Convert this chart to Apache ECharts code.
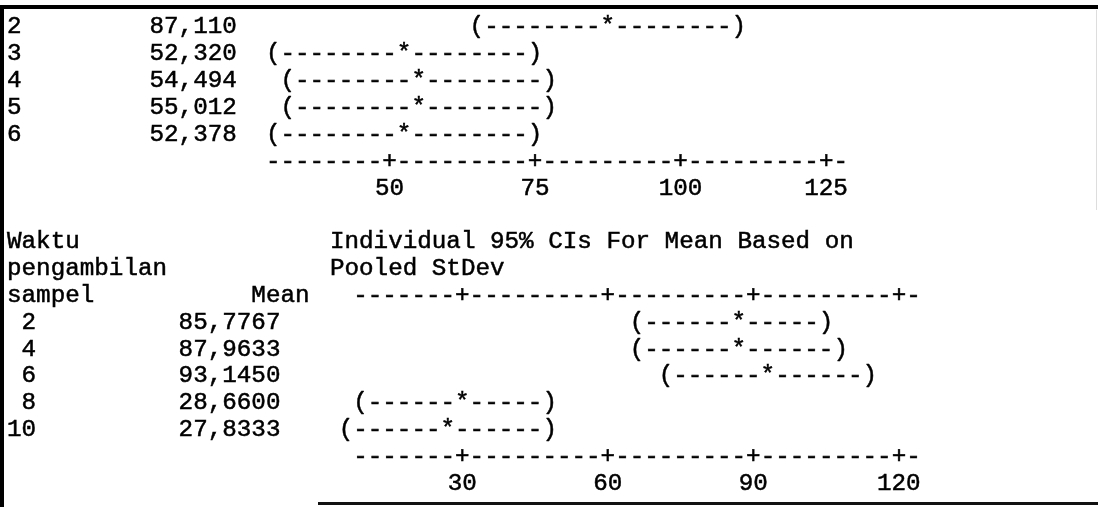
<!DOCTYPE html>
<html><head><meta charset="utf-8">
<script src="https://cdn.jsdelivr.net/npm/echarts@6/dist/echarts.min.js"></script>
<style>html,body{margin:0;padding:0;background:#fff}#c{width:1098px;height:507px}</style>
</head><body><div id="c"></div>
<script>
// ---------------- data ----------------
const topLevels = ['2', '3', '4', '5', '6'];
const topMeans  = [87.110, 52.320, 54.494, 55.012, 52.378];
const topLower  = [64.71, 29.92, 32.09, 32.61, 29.98];
const topUpper  = [109.51, 74.72, 76.89, 77.41, 74.78];
const topTicks  = [50, 75, 100, 125];

const botLevels = ['2', '4', '6', '8', '10'];
const botMeans  = [85.7767, 87.9633, 93.1450, 28.6600, 27.8333];
const botLower  = [65.28, 67.46, 72.65, 8.16, 7.33];
const botUpper  = [106.28, 108.46, 113.65, 49.16, 48.33];
const botTicks  = [30, 60, 90, 120];

const headerLeft  = ['Waktu', 'pengambilan', 'sampel'];
const headerRight = ['Individual 95% CIs For Mean Based on', 'Pooled StDev'];
const meanTitle   = 'Mean';

// ---------------- layout (character grid) ----------------
const CW = 14.55, FS = CW / 0.6, X0 = 4, Y0 = 27, RH = 26.85, LPAD = 3;
const FAMILY = '"Liberation Mono", "DejaVu Sans Mono", monospace';
const FONT = FS + 'px ' + FAMILY;
const INK = '#000';
const colX = c => X0 + c * CW;
const colC = c => X0 + (c + 0.5) * CW;
const rowY = r => Y0 + r * RH;
const snap = px => Math.round((px - X0) / CW - 0.5);
const fmt = (v, d) => v.toFixed(d).replace('.', ',');

function tstyle(x, y, s, align) {
  return { x: x, y: y, text: s, font: FONT, fill: INK, stroke: INK, lineWidth: 0.5,
           align: align || 'left', verticalAlign: 'middle' };
}
function txt(x, y, s, align) {
  return { type: 'text', silent: true, style: tstyle(x, y, s, align) };
}

// CI rows drawn through the axes (quantised to character cells like the printout)
function ciSeries(idx, levels, lower, means, upper, digits, levelEndCol, meanEndCol, levelAlign) {
  return {
    type: 'custom', xAxisIndex: idx, yAxisIndex: idx, silent: true,
    data: means.map((m, i) => [lower[i], m, upper[i], i]),
    encode: { x: [0, 1, 2], y: 3 },
    renderItem(params, api) {
      const i = api.value(3);
      const y = api.coord([api.value(1), i])[1];
      const cL = snap(api.coord([api.value(0), i])[0]);
      const cM = snap(api.coord([api.value(1), i])[0]);
      const cU = snap(api.coord([api.value(2), i])[0]);
      const s = '(' + '-'.repeat(Math.max(0, cM - cL - 1)) + '*' + '-'.repeat(Math.max(0, cU - cM - 1)) + ')';
      const k = params.dataIndex;
      const lx = levelAlign === 'right' ? colX(levelEndCol + 1) + LPAD : colX(0) + LPAD;
      return { type: 'group', children: [
        { type: 'text', style: tstyle(colX(cL), y, s) },
        { type: 'text', style: tstyle(lx, y, levels[k], levelAlign) },
        { type: 'text', style: tstyle(colX(meanEndCol + 1), y, fmt(means[k], digits), 'right') }
      ]};
    }
  };
}

// "--------+---------+..." scale lines
function axisSeries(idx, rows, ticks, lead) {
  return {
    type: 'custom', xAxisIndex: idx, yAxisIndex: idx, silent: true,
    data: rows.map(r => [ticks[0], r]),
    encode: { x: 0, y: 1 },
    renderItem(params, api) {
      const r = api.value(1);
      const y = api.coord([ticks[0], r])[1];
      const cols = ticks.map(t => snap(api.coord([t, r])[0]));
      const start = cols[0] - lead, end = cols[cols.length - 1] + 1;
      let s = '';
      for (let c = start; c <= end; c++) s += cols.indexOf(c) >= 0 ? '+' : '-';
      return { type: 'text', style: tstyle(colX(start), y, s) };
    }
  };
}

function xAx(idx, min, max, interval, ticks) {
  return {
    type: 'value', gridIndex: idx, min: min, max: max, interval: interval,
    axisLine: { show: false }, axisTick: { show: false }, splitLine: { show: false },
    axisLabel: { margin: RH / 2, verticalAlign: 'middle', fontFamily: FAMILY, fontSize: FS, color: INK,
      textBorderColor: INK, textBorderWidth: 0.5,
      formatter: v => ticks.indexOf(v) >= 0 ? String(v) : '' }
  };
}
function yAx(idx, min, max) {
  return { type: 'value', gridIndex: idx, min: min, max: max, inverse: true, show: false };
}

// top scale: column 26 centre = 50, 2.5 units per character
const tUnit = CW / 2.5, tMin = 25, tMax = 150;
// bottom scale: column 31 centre = 30, 3 units per character
const bUnit = CW / 3, bMin = 0, bMax = 150;

const option = {
  animation: false,
  backgroundColor: '#fff',
  grid: [
    { left: colC(26) - (topTicks[0] - tMin) * tUnit, width: (tMax - tMin) * tUnit,
      top: rowY(0) - RH / 2, height: 6 * RH, outerBoundsMode: 'none' },
    { left: colC(31) - (botTicks[0] - bMin) * bUnit, width: (bMax - bMin) * bUnit,
      top: rowY(10) - RH / 2, height: 7 * RH, outerBoundsMode: 'none' }
  ],
  xAxis: [ xAx(0, tMin, tMax, 25, topTicks), xAx(1, bMin, bMax, 30, botTicks) ],
  yAxis: [ yAx(0, -0.5, 5.5), yAx(1, -1.5, 5.5) ],
  series: [
    ciSeries(0, topLevels, topLower, topMeans, topUpper, 3, 0, 15, 'left'),
    axisSeries(0, [5], topTicks, 8),
    ciSeries(1, botLevels, botLower, botMeans, botUpper, 4, 1, 18, 'right'),
    axisSeries(1, [-1, 5], botTicks, 7)
  ],
  graphic: [
    txt(colX(0) + LPAD, rowY(8), headerLeft[0]),
    txt(colX(0) + LPAD, rowY(9), headerLeft[1]),
    txt(colX(0) + LPAD, rowY(10), headerLeft[2]),
    txt(colX(21), rowY(10), meanTitle, 'right'),
    txt(colX(22.4), rowY(8), headerRight[0]),
    txt(colX(22.4), rowY(9), headerRight[1]),
    { type: 'rect', silent: true, shape: { x: 0, y: 5, width: 1098, height: 4 }, style: { fill: '#000' } },
    { type: 'rect', silent: true, shape: { x: 0, y: 5, width: 4, height: 502 }, style: { fill: '#000' } },
    { type: 'rect', silent: true, shape: { x: 318, y: 502, width: 780, height: 3 }, style: { fill: '#111' } },
    { type: 'rect', silent: true, shape: { x: 1096, y: 10, width: 1, height: 200 }, style: { fill: '#ddd' } }
  ]
};

const chart = echarts.init(document.getElementById('c'));
chart.setOption(option);
</script>
</body></html>
